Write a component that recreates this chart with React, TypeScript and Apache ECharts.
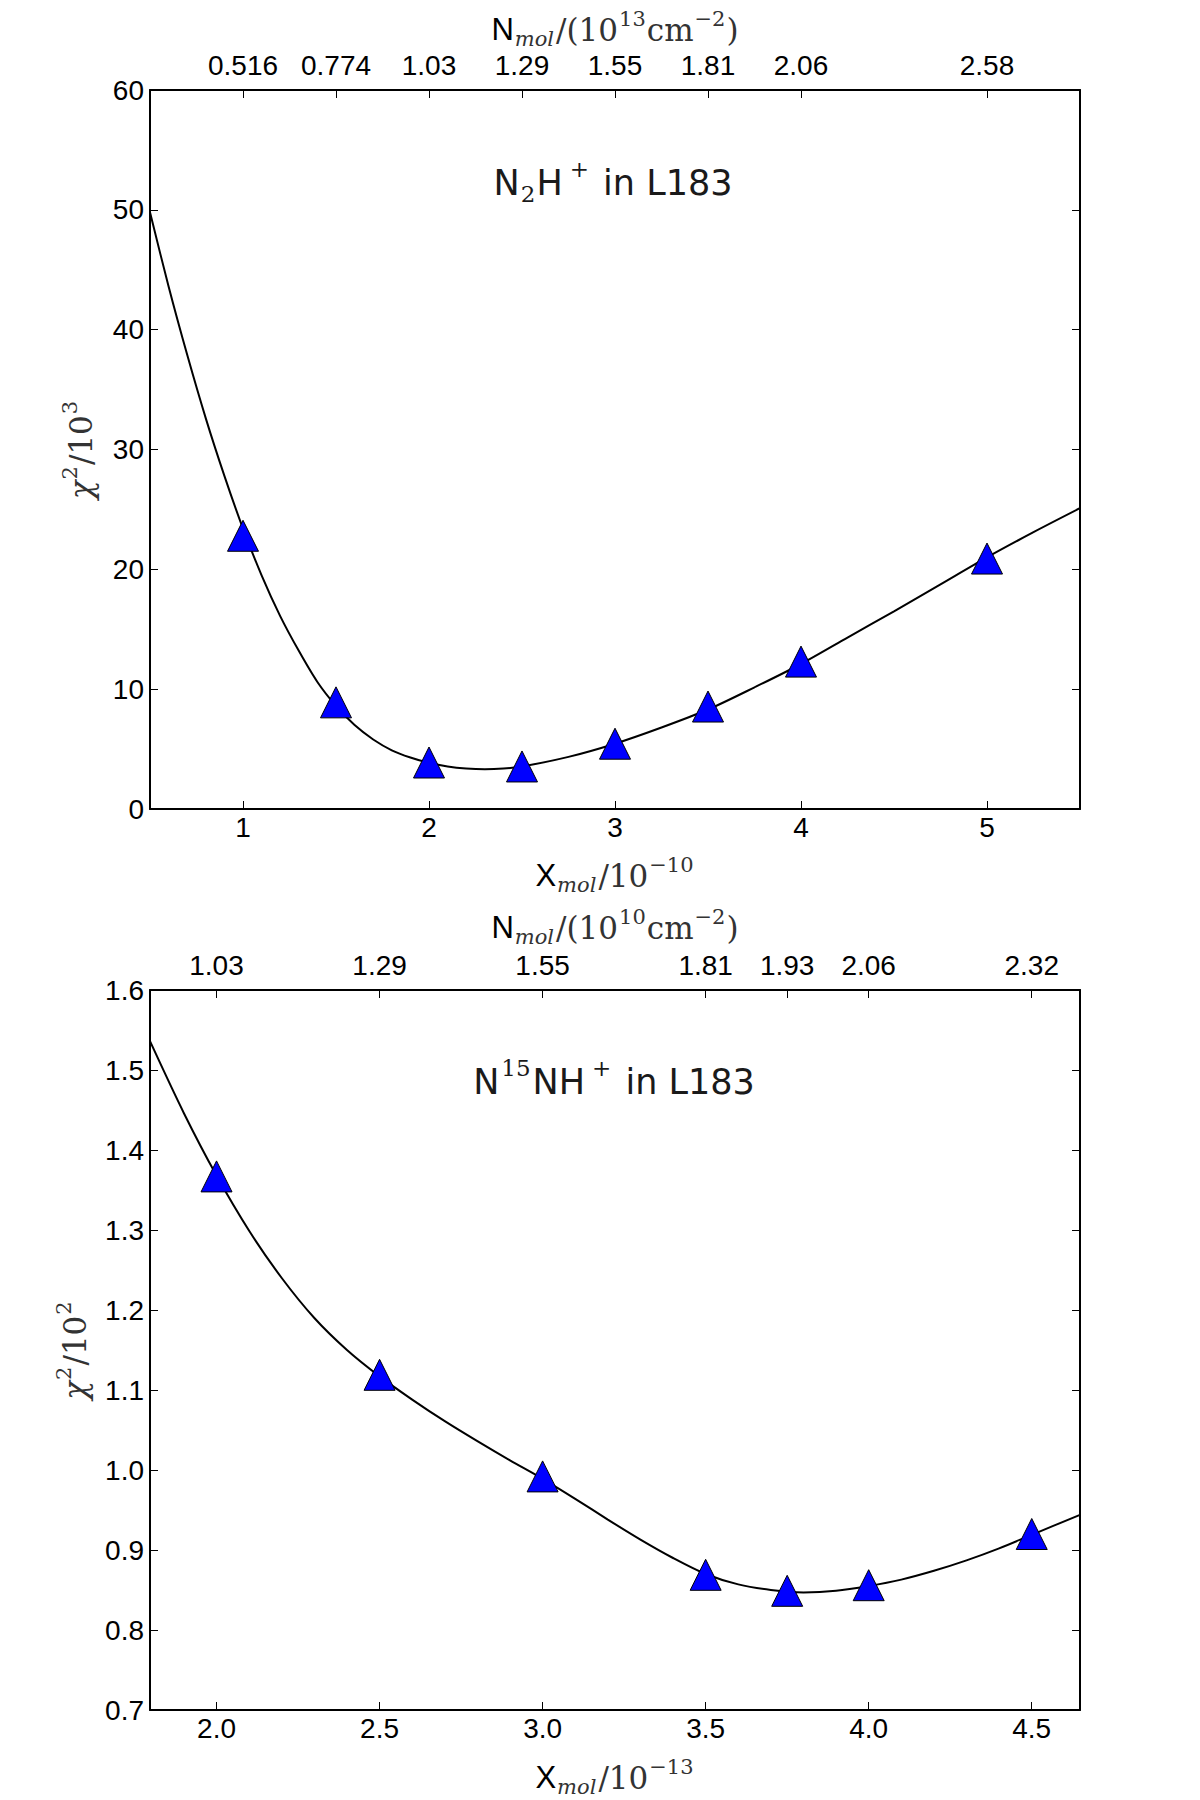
import React, { useEffect, useRef } from "react";
import * as echarts from "echarts";

// ---------- Data: N2H+ in L183 (top panel) ----------
const n2hMarkerX = [1, 1.5, 2, 2.5, 3, 3.5, 4, 5];
const n2hMarkerChi = [22.8, 8.9, 3.88, 3.55, 5.45, 8.55, 12.3, 20.9];
const n2hCurveX = [0.5, 0.6, 0.7, 0.8, 0.9, 1.0, 1.1, 1.2, 1.3, 1.4, 1.5, 1.6, 1.7, 1.8, 1.9, 2.0, 2.1, 2.2, 2.3, 2.4, 2.5, 2.75, 3.0, 3.25, 3.5, 3.75, 4.0, 4.25, 4.5, 4.75, 5.0, 5.25, 5.5];
const n2hCurveChi = [49.8, 43.6, 37.9, 32.6, 27.8, 23.4, 19.5, 16.1, 13.2, 10.6, 8.6, 7.0, 5.8, 4.9, 4.3, 3.85, 3.55, 3.38, 3.32, 3.38, 3.55, 4.35, 5.45, 6.8, 8.3, 10.15, 12.1, 14.3, 16.5, 18.75, 21.0, 23.1, 25.1];
const n2hBottomTicks = [1, 2, 3, 4, 5];
const n2hTopTickX = [1, 1.5, 2, 2.5, 3, 3.5, 4, 5];
const n2hTopTickLabels = ["0.516", "0.774", "1.03", "1.29", "1.55", "1.81", "2.06", "2.58"];

// ---------- Data: N15NH+ in L183 (bottom panel) ----------
const n15MarkerX = [2.0, 2.5, 3.0, 3.5, 3.75, 4.0, 4.5];
const n15MarkerChi = [1.367, 1.119, 0.992, 0.869, 0.849, 0.856, 0.92];
const n15CurveX = [1.796, 1.9, 2.0, 2.1, 2.2, 2.3, 2.4, 2.5, 2.6, 2.7, 2.8, 2.9, 3.0, 3.1, 3.2, 3.3, 3.4, 3.5, 3.6, 3.7, 3.8, 3.9, 4.0, 4.1, 4.2, 4.3, 4.4, 4.5, 4.648];
const n15CurveChi = [1.536, 1.446, 1.368, 1.299, 1.24, 1.19, 1.15, 1.117, 1.088, 1.061, 1.036, 1.012, 0.989, 0.964, 0.938, 0.913, 0.89, 0.87, 0.857, 0.85, 0.847, 0.849, 0.855, 0.863, 0.874, 0.887, 0.902, 0.919, 0.944];
const n15BottomTicks = [2.0, 2.5, 3.0, 3.5, 4.0, 4.5];
const n15TopTickX = [2.0, 2.5, 3.0, 3.5, 3.75, 4.0, 4.5];
const n15TopTickLabels = ["1.03", "1.29", "1.55", "1.81", "1.93", "2.06", "2.32"];

const SANS = "'Liberation Sans', Arial, Helvetica, sans-serif";
const SERIF = "'DejaVu Serif', serif";
const TICK_FONT = 28;

const mathRich = {
  rm: { fontFamily: SANS, fontSize: 31, color: "#000", verticalAlign: "top", padding: [8, 0, 0, 0] },
  sr: { fontFamily: SERIF, fontSize: 31, color: "#333", verticalAlign: "top", padding: [8, 0, 0, 0] },
  ib: { fontFamily: SERIF, fontStyle: "italic", fontSize: 31, color: "#333", verticalAlign: "top", padding: [8, 0, 0, 0] },
  it: { fontFamily: SERIF, fontStyle: "italic", fontSize: 21, color: "#333", verticalAlign: "top", padding: [22, 2, 0, 1] },
  sup: { fontFamily: SERIF, fontSize: 21, color: "#333", verticalAlign: "top", padding: [2, 1, 0, 1] },
};

function bottomX(gridIndex: number, min: number, max: number, ticks: number[], fmt: (v: number) => string, name: string, gap: number) {
  return {
    type: "value",
    gridIndex,
    position: "bottom",
    min,
    max,
    splitLine: { show: false },
    axisLine: { show: true, onZero: false, lineStyle: { color: "#000", width: 2 } },
    axisTick: { show: true, inside: true, length: 8, customValues: ticks, lineStyle: { color: "#000", width: 1 } },
    axisLabel: { show: true, customValues: ticks, color: "#000", fontFamily: SANS, fontSize: TICK_FONT, margin: 4, formatter: (v: number) => fmt(v) },
    name,
    nameLocation: "middle",
    nameGap: gap,
    nameTextStyle: { rich: mathRich },
  };
}

function topX(gridIndex: number, min: number, max: number, ticks: number[], labels: string[], name: string, gap: number) {
  return {
    type: "value",
    gridIndex,
    position: "top",
    min,
    max,
    splitLine: { show: false },
    axisLine: { show: true, onZero: false, lineStyle: { color: "#000", width: 2 } },
    axisTick: { show: true, inside: true, length: 8, customValues: ticks, lineStyle: { color: "#000", width: 1 } },
    axisLabel: {
      show: true,
      customValues: ticks,
      color: "#000",
      fontFamily: SANS,
      fontSize: TICK_FONT,
      margin: 11,
      formatter: (v: number) => {
        let best = 0;
        for (let i = 0; i < ticks.length; i++) {
          if (Math.abs(ticks[i] - v) < Math.abs(ticks[best] - v)) best = i;
        }
        return labels[best];
      },
    },
    name,
    nameLocation: "middle",
    nameGap: gap,
    nameTextStyle: { rich: mathRich },
  };
}

function leftY(gridIndex: number, min: number, max: number, interval: number, fmt: (v: number) => string, name: string, gap: number) {
  return {
    type: "value",
    gridIndex,
    position: "left",
    min,
    max,
    interval,
    splitLine: { show: false },
    axisLine: { show: true, onZero: false, lineStyle: { color: "#000", width: 2 } },
    axisTick: { show: true, inside: true, length: 8, lineStyle: { color: "#000", width: 1 } },
    axisLabel: { show: true, color: "#000", fontFamily: SANS, fontSize: TICK_FONT, margin: 6, formatter: (v: number) => fmt(v) },
    name,
    nameLocation: "middle",
    nameGap: gap,
    nameRotate: 90,
    nameTextStyle: { rich: mathRich },
  };
}

function rightY(gridIndex: number, min: number, max: number, interval: number) {
  return {
    type: "value",
    gridIndex,
    position: "right",
    min,
    max,
    interval,
    splitLine: { show: false },
    axisLine: { show: true, onZero: false, lineStyle: { color: "#000", width: 2 } },
    axisTick: { show: true, inside: true, length: 8, lineStyle: { color: "#000", width: 1 } },
    axisLabel: { show: false },
  };
}

const zip = (xs: number[], ys: number[]) => xs.map((x, i) => [x, ys[i]]);

const titleRich = {
  a: { fontFamily: "'DejaVu Sans', sans-serif", fontSize: 35, fill: "#1a1a1a", verticalAlign: "top", padding: [8, 0, 0, 0] },
  s: { fontFamily: SERIF, fontSize: 23, fill: "#1a1a1a", verticalAlign: "top", padding: [25, 1, 0, 1] },
  p: { fontFamily: SERIF, fontSize: 23, fill: "#1a1a1a", verticalAlign: "top", padding: [0, 3, 0, 7] },
  q: { fontFamily: SERIF, fontSize: 23, fill: "#1a1a1a", verticalAlign: "top", padding: [0, 2, 0, 2] },
};

export default function App() {
  const ref = useRef<HTMLDivElement>(null);

  useEffect(() => {
    document.body.style.margin = "0";
    if (!ref.current) return;
    const chart = echarts.init(ref.current, null, { renderer: "svg" });
    const option: any = {
      animation: false,
      backgroundColor: "#fff",
      grid: [
        { left: 150, top: 90, width: 930, height: 719, containLabel: false },
        { left: 150, top: 990, width: 930, height: 720, containLabel: false },
      ],
      xAxis: [
        bottomX(0, 0.5, 5.5, n2hBottomTicks, (v) => String(Math.round(v)), "{rm|X}{it|mol}{sr|/10}{sup|−10}", 43),
        topX(0, 0.5, 5.5, n2hTopTickX, n2hTopTickLabels, "{rm|N}{it|mol}{sr|/(10}{sup|13}{sr|cm}{sup|−2}{sr|)}", 41),
        bottomX(1, 1.796, 4.648, n15BottomTicks, (v) => v.toFixed(1), "{rm|X}{it|mol}{sr|/10}{sup|−13}", 44),
        topX(1, 1.796, 4.648, n15TopTickX, n15TopTickLabels, "{rm|N}{it|mol}{sr|/(10}{sup|10}{sr|cm}{sup|−2}{sr|)}", 43),
      ],
      yAxis: [
        leftY(0, 0, 60, 10, (v) => String(Math.round(v)), "{ib|χ}{sup|2}{sr|/10}{sup|3}", 54),
        rightY(0, 0, 60, 10),
        leftY(1, 0.7, 1.6, 0.1, (v) => v.toFixed(1), "{ib|χ}{sup|2}{sr|/10}{sup|2}", 60),
        rightY(1, 0.7, 1.6, 0.1),
      ],
      graphic: [
        {
          type: "text",
          x: 613,
          y: 181,
          style: { text: "{a|N}{s|2}{a|H}{p|+}{a| in L183}", rich: titleRich, align: "center", verticalAlign: "middle" },
        },
        {
          type: "text",
          x: 614,
          y: 1078,
          style: { text: "{a|N}{q|15}{a|NH}{p|+}{a| in L183}", rich: titleRich, align: "center", verticalAlign: "middle" },
        },
      ],
      series: [
        {
          type: "line",
          xAxisIndex: 0,
          yAxisIndex: 0,
          data: zip(n2hCurveX, n2hCurveChi),
          showSymbol: false,
          smooth: 0.3,
          lineStyle: { color: "#000", width: 2 },
          z: 2,
        },
        {
          type: "scatter",
          xAxisIndex: 0,
          yAxisIndex: 0,
          data: zip(n2hMarkerX, n2hMarkerChi),
          symbol: "triangle",
          symbolSize: 31,
          itemStyle: { color: "#0000ff", borderColor: "#000", borderWidth: 1, opacity: 1 },
          z: 3,
        },
        {
          type: "line",
          xAxisIndex: 2,
          yAxisIndex: 2,
          data: zip(n15CurveX, n15CurveChi),
          showSymbol: false,
          smooth: 0.3,
          lineStyle: { color: "#000", width: 2 },
          z: 2,
        },
        {
          type: "scatter",
          xAxisIndex: 2,
          yAxisIndex: 2,
          data: zip(n15MarkerX, n15MarkerChi),
          symbol: "triangle",
          symbolSize: 31,
          itemStyle: { color: "#0000ff", borderColor: "#000", borderWidth: 1, opacity: 1 },
          z: 3,
        },
      ],
    };
    chart.setOption(option);
    return () => chart.dispose();
  }, []);

  return <div ref={ref} style={{ width: 1200, height: 1800 }} />;
}
